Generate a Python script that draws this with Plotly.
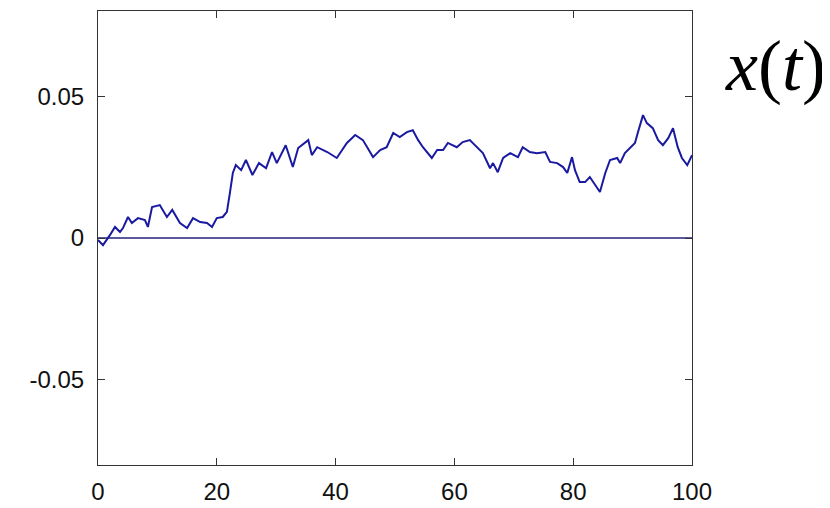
import plotly.graph_objects as go

# Time samples and the process value x(t)
t_vals = [0, 0.84, 2.0, 2.86, 3.7, 4.2, 5.05, 5.7, 6.73, 7.9, 8.4, 9.1, 10.4, 11.6,
          12.5, 13.8, 15.0, 16.0, 17.2, 18.35, 19.2, 20.0, 21.0, 21.7, 22.2, 22.7,
          23.2, 24.1, 24.9, 26.0, 27.1, 28.3, 29.3, 30.1, 31.6, 32.8, 33.7, 35.4,
          36.0, 36.9, 38.6, 40.2, 41.9, 43.3, 44.6, 46.3, 47.5, 48.6, 49.7, 50.8,
          52.0, 53.0, 53.9, 54.7, 56.2, 57.1, 58.1, 58.9, 60.4, 61.4, 62.6, 64.0,
          64.8, 66.0, 66.5, 67.3, 68.2, 69.4, 70.7, 71.5, 72.7, 73.9, 75.3, 76.1,
          77.3, 78.3, 79.0, 79.8, 80.3, 81.1, 82.0, 82.8, 83.7, 84.5, 85.4, 86.2,
          87.4, 87.9, 88.7, 89.6, 90.4, 90.9, 91.75, 92.4, 93.4, 94.3, 95.1, 96.0,
          96.8, 97.6, 98.3, 99.2, 100]
x_vals = [-0.0007, -0.0025, 0.001, 0.0039, 0.0021, 0.0035, 0.0074, 0.0053, 0.007,
          0.0063, 0.0039, 0.0109, 0.0116, 0.0074, 0.0099, 0.0053, 0.0035, 0.007,
          0.0056, 0.0053, 0.0039, 0.007, 0.0074, 0.0092, 0.0158, 0.0229, 0.0257,
          0.0239, 0.0275, 0.0222, 0.0264, 0.0246, 0.0303, 0.0264, 0.0327, 0.025,
          0.0317, 0.0345, 0.0292, 0.032, 0.0303, 0.0282, 0.0335, 0.0363, 0.0345,
          0.0285, 0.031, 0.032, 0.037, 0.0356, 0.0373, 0.038, 0.0345, 0.032,
          0.0282, 0.031, 0.031, 0.0335, 0.032, 0.0338, 0.0345, 0.0317, 0.0299,
          0.0246, 0.0264, 0.0232, 0.0282, 0.0299, 0.0285, 0.032, 0.0303, 0.0299,
          0.0303, 0.0268, 0.0264, 0.025, 0.0229, 0.0285, 0.0239, 0.0197, 0.0197,
          0.0215, 0.0187, 0.0162, 0.0229, 0.0275, 0.0282, 0.0264, 0.0299, 0.032,
          0.0335, 0.0373, 0.0433, 0.0405, 0.0387, 0.0345, 0.0327, 0.0352, 0.0387,
          0.032, 0.0282, 0.0257, 0.0292]

zero_t = [0, 100]
zero_x = [0, 0]

x_ticks = [0, 20, 40, 60, 80, 100]
y_ticks = [-0.05, 0, 0.05]
y_tick_text = ["-0.05", "0", "0.05"]

# the page adds an 8px body margin, so the figure is a bit smaller and shifted
OFF = 8
W, H = 830 - OFF, 508 - OFF
L, T = 98 - OFF, 11 - OFF
R = W - (692 - OFF)
B = H - (465 - OFF)
pw, ph = W - L - R, H - T - B

fig = go.Figure()
fig.add_trace(go.Scatter(x=zero_t, y=zero_x, mode="lines",
                         line=dict(color="#22227a", width=1.3), showlegend=False))
fig.add_trace(go.Scatter(x=t_vals, y=x_vals, mode="lines",
                         line=dict(color="#1a1aa0", width=2), showlegend=False))

tick_font = dict(family="Liberation Sans, Arial", size=24, color="#111")

fig.update_layout(
    width=W, height=H,
    margin=dict(l=L, r=R, t=T, b=B, autoexpand=False),
    paper_bgcolor="white", plot_bgcolor="white",
    xaxis=dict(range=[0, 100], tickvals=x_ticks, ticks="inside", ticklen=7,
               tickcolor="#333", showline=True, linecolor="#333", linewidth=1.2,
               mirror="ticks", showgrid=False, zeroline=False, tickfont=tick_font,
               ticklabelstandoff=5, automargin=False),
    yaxis=dict(range=[-0.08, 0.08], tickvals=y_ticks, ticktext=y_tick_text,
               ticks="inside", ticklen=7, tickcolor="#333", showline=True,
               linecolor="#333", linewidth=1.2, mirror="ticks", showgrid=False,
               zeroline=False, tickfont=tick_font, ticklabelstandoff=8,
               automargin=False),
    annotations=[dict(text="<i>x</i>(<i>t</i>)",
                      x=(775 - OFF - L) / pw, y=1 - (66 - OFF - T) / ph,
                      xref="paper", yref="paper", showarrow=False,
                      font=dict(family="Liberation Serif, Times New Roman, serif", size=72,
                                color="black"),
                      xanchor="center", yanchor="middle")],
)

fig.write_html("out.html")
